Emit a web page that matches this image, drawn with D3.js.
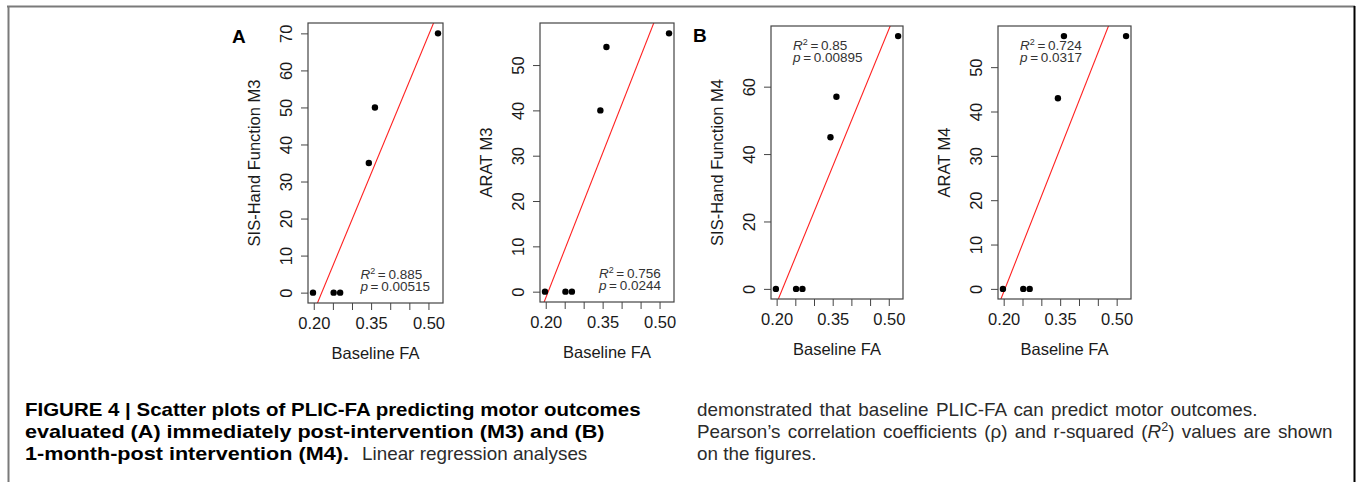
<!DOCTYPE html>
<html>
<head>
<meta charset="utf-8">
<script src="https://cdn.jsdelivr.net/npm/d3@7"></script>
<style>
body { margin: 0; background: #fff; }
svg { display: block; }
</style>
</head>
<body>
<svg id="fig" width="1357" height="482"></svg>
<script>
// values (same six subjects in every panel)
var baselineFA = [0.198, 0.252, 0.269, 0.344, 0.360, 0.525];
var sisM3 = [0, 0, 0, 35, 50, 70];
var aratM3 = [0, 0, 0, 40, 54, 57];
var sisM4 = [0, 0, 0, 45, 57, 75];
var aratM4 = [0, 0, 0, 43, 57, 57];

var xTicks = [0.20, 0.25, 0.30, 0.35, 0.40, 0.45, 0.50];
var xTickLabels = [0.20, 0.35, 0.50];
var yTicksSisM3 = [0, 10, 20, 30, 40, 50, 60, 70];
var yTicksAratM3 = [0, 10, 20, 30, 40, 50];
var yTicksSisM4 = [0, 20, 40, 60];
var yTicksAratM4 = [0, 10, 20, 30, 40, 50];

var yTitles = ["SIS-Hand Function M3", "ARAT M3", "SIS-Hand Function M4", "ARAT M4"];
var rSquared = ["0.885", "0.756", "0.85", "0.724"];
var pValues = ["0.00515", "0.0244", "0.00895", "0.0317"];

var panels = [
    {values: sisM3, ticks: yTicksSisM3, left: 308, top: 23, width: 135, height: 280, legend: "bottomright"},
    {values: aratM3, ticks: yTicksAratM3, left: 540, top: 23, width: 134, height: 279, legend: "bottomright"},
    {values: sisM4, ticks: yTicksSisM4, left: 771, top: 26, width: 132, height: 273, legend: "topleft"},
    {values: aratM4, ticks: yTicksAratM4, left: 998, top: 26, width: 133, height: 273, legend: "topleft"}
];

var plotFont = "'Liberation Sans', Arial, sans-serif";
var capFont = "'Liberation Sans', Arial, sans-serif";

var svg = d3.select("#fig");

// R pads the data range by 4% on each side
function PadRange(ext) {
    var d = (ext[1] - ext[0]) * 0.04;
    return [ext[0] - d, ext[1] + d];
}

function LinearFit(xs, ys) {
    var mx = d3.mean(xs), my = d3.mean(ys);
    var sxy = 0, sxx = 0;
    for (var i = 0; i < xs.length; i++) {
        sxy += (xs[i] - mx) * (ys[i] - my);
        sxx += (xs[i] - mx) * (xs[i] - mx);
    }
    var b = sxy / sxx;
    return {slope: b, intercept: my - b * mx};
}

function DrawPanel(p, idx) {
    var x = d3.scaleLinear().domain(PadRange(d3.extent(baselineFA))).range([p.left, p.left + p.width]);
    var y = d3.scaleLinear().domain(PadRange(d3.extent(p.values))).range([p.top + p.height, p.top]);
    var g = svg.append("g");

    g.append("clipPath").attr("id", "clip" + idx)
        .append("rect")
        .attr("x", p.left).attr("y", p.top)
        .attr("width", p.width).attr("height", p.height);

    // x axis
    var xAxis = d3.axisBottom(x)
        .tickValues(xTicks)
        .tickSize(7)
        .tickPadding(7)
        .tickFormat(function(d) {
            return xTickLabels.some(function(v) { return Math.abs(v - d) < 1e-9; }) ? d.toFixed(2) : "";
        });
    var gx = g.append("g")
        .attr("transform", "translate(0," + (p.top + p.height) + ")")
        .call(xAxis);
    gx.select(".domain").remove();
    gx.selectAll("line").attr("stroke", "#444");
    gx.selectAll("text").attr("font-family", plotFont).attr("font-size", 16.5).attr("fill", "#1a1a1a");

    // y axis, labels turned like R's default
    var yAxis = d3.axisLeft(y).tickValues(p.ticks).tickSize(7).tickFormat(d3.format("d"));
    var gy = g.append("g")
        .attr("transform", "translate(" + p.left + ",0)")
        .call(yAxis);
    gy.select(".domain").remove();
    gy.selectAll("line").attr("stroke", "#444");
    gy.selectAll("text")
        .attr("x", 0).attr("dy", 0)
        .attr("text-anchor", "middle")
        .attr("transform", "translate(-16,0) rotate(-90)")
        .attr("font-family", plotFont).attr("font-size", 16.5).attr("fill", "#1a1a1a");

    // regression line
    var fit = LinearFit(baselineFA, p.values);
    var xd = x.domain();
    g.append("line")
        .attr("clip-path", "url(#clip" + idx + ")")
        .attr("x1", x(xd[0])).attr("y1", y(fit.intercept + fit.slope * xd[0]))
        .attr("x2", x(xd[1])).attr("y2", y(fit.intercept + fit.slope * xd[1]))
        .attr("stroke", "#ff2020").attr("stroke-width", 1.1);

    // points
    g.selectAll("circle.pt")
        .data(baselineFA)
        .enter().append("circle")
        .attr("class", "pt")
        .attr("cx", function(d) { return x(d); })
        .attr("cy", function(d, i) { return y(p.values[i]); })
        .attr("r", 3.2)
        .attr("fill", "#000");

    // box
    g.append("rect")
        .attr("x", p.left).attr("y", p.top)
        .attr("width", p.width).attr("height", p.height)
        .attr("fill", "none").attr("stroke", "#444").attr("stroke-width", 1.2);

    // axis titles
    g.append("text")
        .attr("x", p.left + p.width / 2).attr("y", p.top + p.height + 56)
        .attr("text-anchor", "middle")
        .attr("font-family", plotFont).attr("font-size", 16.5).attr("fill", "#1a1a1a")
        .text("Baseline FA");
    g.append("text")
        .attr("transform", "translate(" + (p.left - 48) + "," + (p.top + p.height / 2) + ") rotate(-90)")
        .attr("text-anchor", "middle")
        .attr("font-family", plotFont).attr("font-size", 16.5).attr("fill", "#1a1a1a")
        .text(yTitles[idx]);

    // R^2 / p legend
    var leg = g.append("g").attr("font-family", plotFont).attr("font-size", 13.5).attr("fill", "#333");
    var t1 = leg.append("text").attr("y", 0);
    t1.append("tspan").attr("font-style", "italic").text("R");
    t1.append("tspan").attr("font-size", 9).attr("dy", -5).text("2");
    t1.append("tspan").attr("dy", 5).text("\u2009=\u2009" + rSquared[idx]);
    var t2 = leg.append("text").attr("y", 11.5);
    t2.append("tspan").attr("font-style", "italic").text("p");
    t2.append("tspan").text("\u2009=\u2009" + pValues[idx]);
    var w = Math.max(t1.node().getComputedTextLength(), t2.node().getComputedTextLength());
    if (p.legend == "bottomright") {
        leg.attr("transform", "translate(" + (p.left + p.width - 13 - w) + "," + (p.top + p.height - 24) + ")");
    } else {
        leg.attr("transform", "translate(" + (p.left + 22) + "," + (p.top + 24) + ")");
    }
}

for (var i = 0; i < panels.length; i++) {
    DrawPanel(panels[i], i);
}

// panel letters
svg.append("text").attr("x", 232).attr("y", 43)
    .attr("font-family", plotFont).attr("font-weight", "bold").attr("font-size", 19).text("A");
svg.append("text").attr("x", 693).attr("y", 42)
    .attr("font-family", plotFont).attr("font-weight", "bold").attr("font-size", 19).text("B");

// frame
svg.append("line").attr("x1", 7).attr("y1", 6.5).attr("x2", 1355).attr("y2", 6.5)
    .attr("stroke", "#7a7a7a").attr("stroke-width", 2);
svg.append("line").attr("x1", 8.5).attr("y1", 6).attr("x2", 8.5).attr("y2", 482)
    .attr("stroke", "#7a7a7a").attr("stroke-width", 2);
svg.append("line").attr("x1", 1354.5).attr("y1", 6).attr("x2", 1354.5).attr("y2", 482)
    .attr("stroke", "#000").attr("stroke-width", 2);

// caption text
var capBold1 = [{text: "FIGURE 4 | Scatter plots of PLIC-FA predicting motor outcomes", bold: true}];
var capBold2 = [{text: "evaluated (A) immediately post-intervention (M3) and (B)", bold: true}];
var capBold3 = [{text: "1-month-post intervention (M4).", bold: true}];
var capNorm3 = [{text: "Linear regression analyses"}];
var capRight1 = [{text: "demonstrated that baseline PLIC-FA can predict motor outcomes."}];
var capRight2 = [
    {text: "Pearson\u2019s correlation coefficients (\u03c1) and r-squared ("},
    {text: "R", italic: true},
    {text: "2", sup: true},
    {text: ") values are shown", down: true}
];
var capRight3 = [{text: "on the figures."}];

function BuildLine(parts) {
    var g = svg.append("g").attr("font-family", capFont).attr("font-size", 18);
    var t = g.append("text").attr("x", 0).attr("y", 0);
    parts.forEach(function(s) {
        var ts = t.append("tspan").text(s.text);
        if (s.bold) ts.attr("font-weight", "bold").attr("fill", "#000");
        else ts.attr("fill", "#2b2b2b");
        if (s.italic) ts.attr("font-style", "italic");
        if (s.sup) ts.attr("font-size", 12).attr("dy", -7);
        if (s.down) ts.attr("dy", 7);
    });
    return g;
}

// horizontal squeeze that makes a reference line fit with plain spacing
function FitScale(parts, target) {
    var g = BuildLine(parts);
    var w = g.node().getBBox().width;
    g.remove();
    return target / w;
}

// condensed glyphs (scale k); if x1 is given, widen word gaps to reach it
function CaptionLine(parts, x0, x1, baseline, k) {
    var g = BuildLine(parts);
    var bb = g.node().getBBox();
    if (x1 != null) {
        var full = parts.map(function(s) { return s.text; }).join("");
        var n = (full.match(/ /g) || []).length;
        var target = x1 - x0;
        if (bb.width * k > target || n == 0) {
            k = target / bb.width;
        } else {
            g.select("text").style("word-spacing", ((target / k - bb.width) / n) + "px");
        }
    }
    var bb2 = g.node().getBBox();
    g.attr("transform", "translate(" + (x0 - bb2.x * k) + "," + baseline + ") scale(" + k + ",1)");
}

var boldK = FitScale(capBold3, 324);
var normK = FitScale(capRight2, 618);

CaptionLine(capBold1, 25, 641, 416, boldK);
CaptionLine(capBold2, 25, null, 438, boldK);
CaptionLine(capBold3, 25, null, 460, boldK);
CaptionLine(capNorm3, 362, null, 460, normK);
CaptionLine(capRight1, 697, 1258, 416, normK);
CaptionLine(capRight2, 697, 1333, 438, normK);
CaptionLine(capRight3, 697, null, 460, normK);
</script>
</body>
</html>
